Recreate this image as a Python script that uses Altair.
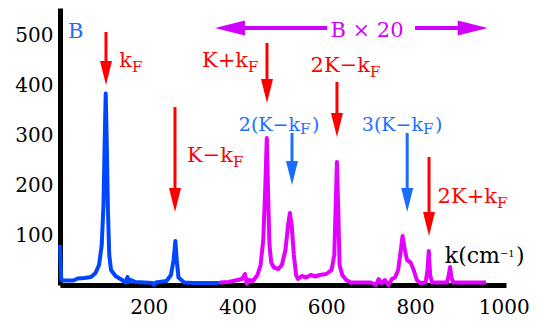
import altair as alt
import pandas as pd

# ---- spectra (k in cm^-1, intensity) ----
blue_k = [0, 3, 10, 30, 40, 55, 70, 80, 88, 94, 98, 101, 103, 105, 108, 111, 115, 125, 140, 148, 152, 156, 160, 170, 190, 208, 212, 216, 240, 250, 256, 260, 263, 267, 280, 300, 360]
blue_v = [80, 10, 9, 9, 13, 14, 16, 24, 40, 80, 160, 300, 383, 300, 150, 60, 30, 18, 10, 5, 16, 6, 10, 6, 5, 4, 0, 5, 8, 20, 50, 88, 50, 15, 5, 4, 4]

mag_k = [360, 380, 400, 410, 417, 421, 425, 435, 445, 452, 458, 462, 466, 469, 472, 476, 482, 492, 500, 508, 514, 518, 522, 527, 532, 536, 545, 555, 565, 575, 585, 600, 612, 618, 621, 624, 627, 630, 636, 645, 655, 700, 712, 718, 724, 732, 740, 748, 755, 762, 768, 772, 776, 782, 790, 797, 804, 812, 824, 828, 831, 834, 838, 872, 876, 879, 882, 886, 960]
mag_v = [5, 6, 10, 12, 22, 2, 10, 8, 20, 40, 90, 180, 294, 180, 80, 45, 35, 32, 40, 70, 120, 144, 120, 60, 20, 12, 18, 15, 20, 17, 20, 22, 30, 60, 150, 246, 150, 40, 20, 10, 5, 5, 0, 12, 3, 10, 0, 12, 15, 30, 70, 98, 75, 50, 45, 30, 10, 4, 5, 30, 68, 20, 5, 5, 20, 36, 15, 5, 5]

# ---- down arrows ----
arrow_k = [103.6, 259.1, 466.4, 624.1, 831.5, 522.8, 782.3]
arrow_top = [506, 356, 484, 406, 256, 304, 304]
arrow_tip = [400, 146, 364, 296, 98, 200, 146]
arrow_col = ["#ff0000", "#ff0000", "#ff0000", "#ff0000", "#ff0000", "#1a6eff", "#1a6eff"]

# ---- B x 20 double arrow ----
hseg_k = [383, 800]
hseg_k2 = [602, 930]
hseg_v = [514, 514]
head_left_k = [383]
head_right_k = [930]

# ---- labels ----
main_txt = ["k", "K\u2212k", "K+k", "2K\u2212k", "2(K\u2212k", "3(K\u2212k", "2K+k", "k(cm"]
main_k = [162.2, 389.8, 423.6, 698.5, 540.8, 818.0, 984.7, 991.4]
main_v = [436, 246, 436, 426, 308, 308, 164, 44]
main_col = ["#ff0000", "#ff0000", "#ff0000", "#ff0000", "#1a6eff", "#1a6eff", "#ff0000", "#000000"]
main_size = [21, 21, 21, 21, 19, 19, 21, 22]

sub_txt = ["F", "F", "F", "F", "F", "F", "F", "\u22121", ")", ")", ")", "B"]
sub_k = [162.2, 389.8, 423.6, 698.5, 540.8, 818.0, 984.7, 991.4, 567.8, 845, 1027.5, 18]
sub_v = [426, 236, 426, 416, 302, 302, 154, 56, 308, 308, 44, 494]
sub_col = ["#ff0000", "#ff0000", "#ff0000", "#ff0000", "#1a6eff", "#1a6eff", "#ff0000", "#000000", "#1a6eff", "#1a6eff", "#000000", "#1a6eff"]
sub_size = [15, 15, 15, 15, 15, 15, 15, 10, 19, 19, 22, 21]

mid_txt = ["B \u00d7 20"]
mid_k = [691.7]
mid_v = [496]

MAG_LINE = "#e300ff"
MAG_TXT = "#d000ff"
BLUE_LINE = "#0046ff"
FONT = "DejaVu Serif"

xs = alt.Scale(domain=[0, 1005], nice=False, zero=False)
ys = alt.Scale(domain=[0, 554], nice=False, zero=False)

blue_df = pd.DataFrame({"k": blue_k, "v": blue_v})
mag_df = pd.DataFrame({"k": mag_k, "v": mag_v})

xenc = alt.X("k:Q", scale=xs, axis=alt.Axis(values=[200, 400, 600, 800, 1000], format="d", title=None))
yenc = alt.Y("v:Q", scale=ys, axis=alt.Axis(values=[100, 200, 300, 400, 500], format="d", title=None))

blue = alt.Chart(blue_df).mark_line(color=BLUE_LINE, strokeWidth=4, strokeJoin="round").encode(x=xenc, y=yenc)
mag = alt.Chart(mag_df).mark_line(color=MAG_LINE, strokeWidth=4, strokeJoin="round").encode(x="k:Q", y="v:Q")

arr_df = pd.DataFrame({"k": arrow_k, "top": arrow_top, "tip": arrow_tip, "c": arrow_col})
arr_df["head"] = arr_df["tip"] + 24
shafts = alt.Chart(arr_df).mark_rule(strokeWidth=3).encode(
    x="k:Q", y="top:Q", y2="head:Q", color=alt.Color("c:N", scale=None))
heads = alt.Chart(arr_df).mark_point(
    shape="M-0.5,-1L0.5,-1L0,1Z", filled=True, size=576, opacity=1, strokeWidth=0
).encode(x="k:Q", y="head:Q", color=alt.Color("c:N", scale=None))

h_df = pd.DataFrame({"k": hseg_k, "k2": hseg_k2, "v": hseg_v})
hlines = alt.Chart(h_df).mark_rule(strokeWidth=4, color=MAG_TXT).encode(x="k:Q", x2="k2:Q", y="v:Q")
hl_df = pd.DataFrame({"k": head_left_k, "v": [514]})
hr_df = pd.DataFrame({"k": head_right_k, "v": [514]})
hleft = alt.Chart(hl_df).mark_point(shape="M1,-0.5L-1,0L1,0.5Z", filled=True, size=900,
                                    opacity=1, strokeWidth=0, color=MAG_TXT).encode(x="k:Q", y="v:Q")
hright = alt.Chart(hr_df).mark_point(shape="M-1,-0.5L1,0L-1,0.5Z", filled=True, size=900,
                                     opacity=1, strokeWidth=0, color=MAG_TXT).encode(x="k:Q", y="v:Q")

main_df = pd.DataFrame({"k": main_k, "v": main_v, "t": main_txt, "c": main_col, "s": main_size})
sub_df = pd.DataFrame({"k": sub_k, "v": sub_v, "t": sub_txt, "c": sub_col, "s": sub_size})
mid_df = pd.DataFrame({"k": mid_k, "v": mid_v, "t": mid_txt})

main_text = alt.Chart(main_df).mark_text(align="right", baseline="alphabetic", font=FONT).encode(
    x="k:Q", y="v:Q", text="t:N", color=alt.Color("c:N", scale=None), size=alt.Size("s:Q", scale=None))
sub_text = alt.Chart(sub_df).mark_text(align="left", baseline="alphabetic", font=FONT).encode(
    x="k:Q", y="v:Q", text="t:N", color=alt.Color("c:N", scale=None), size=alt.Size("s:Q", scale=None))
mid_text = alt.Chart(mid_df).mark_text(align="center", baseline="alphabetic", font=FONT, fontSize=21,
                                       color=MAG_TXT).encode(x="k:Q", y="v:Q", text="t:N")

chart = alt.layer(
    blue, mag, shafts, heads, hlines, hleft, hright, main_text, sub_text, mid_text
).properties(
    width=446, height=277,
    autosize=alt.AutoSizeParams(type="none"),
    padding={"left": 52, "top": 0, "right": 28, "bottom": 36},
).configure_view(stroke=None).configure_axis(
    grid=False, ticks=False, tickSize=0, domainColor="black", domainWidth=5,
    labelFont=FONT, labelFontSize=20, labelColor="black",
).configure_axisX(labelPadding=12).configure_axisY(labelPadding=7)

chart.save("out.html", embed_options={"renderer": "svg", "actions": False})
